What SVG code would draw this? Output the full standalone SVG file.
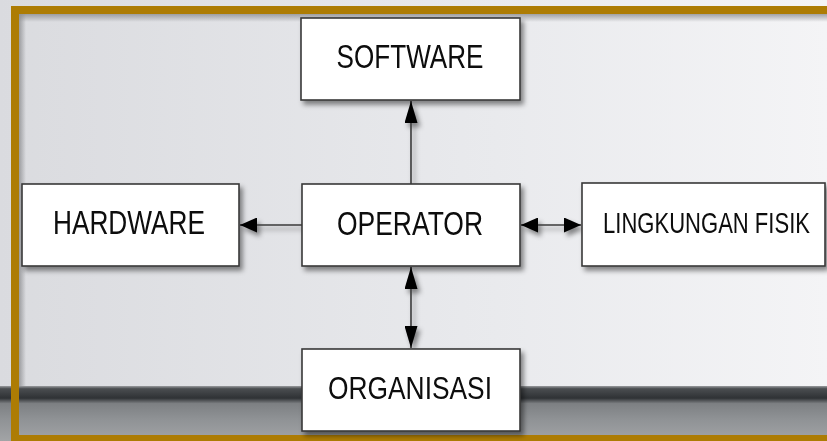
<svg xmlns="http://www.w3.org/2000/svg" width="827" height="441" viewBox="0 0 827 441">
<defs>
<linearGradient id="bg" x1="0" y1="0" x2="1" y2="0">
<stop offset="0" stop-color="#dadbdf"/>
<stop offset="0.6" stop-color="#e9eaed"/>
<stop offset="1" stop-color="#f4f4f6"/>
</linearGradient>
<linearGradient id="strip" x1="0" y1="0" x2="0" y2="1">
<stop offset="0" stop-color="#9a9c9f"/>
<stop offset="0.05" stop-color="#4a4d50"/>
<stop offset="0.22" stop-color="#2f3235"/>
<stop offset="0.32" stop-color="#7d8083"/>
<stop offset="0.6" stop-color="#8f9295"/>
<stop offset="1" stop-color="#a2a4a6"/>
</linearGradient>
<linearGradient id="topsh" x1="0" y1="0" x2="0" y2="1">
<stop offset="0" stop-color="#8c8d90" stop-opacity="0.8"/>
<stop offset="1" stop-color="#8c8d90" stop-opacity="0"/>
</linearGradient>
<linearGradient id="leftsh" x1="0" y1="0" x2="1" y2="0">
<stop offset="0" stop-color="#8c8d90" stop-opacity="0.8"/>
<stop offset="1" stop-color="#8c8d90" stop-opacity="0"/>
</linearGradient>
<filter id="sh" x="-10%" y="-10%" width="130%" height="140%">
<feDropShadow dx="3" dy="4" stdDeviation="2.5" flood-color="#000" flood-opacity="0.45"/>
</filter>
<marker id="av" markerUnits="userSpaceOnUse" markerWidth="22" markerHeight="13" refX="22" refY="6.5" orient="auto-start-reverse">
<path d="M0,0 L22,6.5 L0,13 z" fill="#000"/>
</marker>
<marker id="ah" markerUnits="userSpaceOnUse" markerWidth="17" markerHeight="15" refX="17" refY="7.5" orient="auto-start-reverse">
<path d="M0,0 L17,7.5 L0,15 z" fill="#000"/>
</marker>
</defs>
<style>
.box{fill:#fff;stroke:#3a3a3a;stroke-width:1.6}
.lbl{font-family:"Liberation Sans",Arial,sans-serif;fill:#0a0a0a;text-anchor:middle}
.con{stroke:#3a3a3a;stroke-width:1.6;fill:none}
</style>
<rect x="0" y="0" width="827" height="441" fill="url(#bg)"/>
<rect x="0" y="386" width="827" height="55" fill="url(#strip)"/>
<rect x="19" y="14" width="808" height="8" fill="url(#topsh)"/>
<rect x="19" y="14" width="7" height="373" fill="url(#leftsh)"/>
<g id="frame" fill="#ad7c04">
<rect x="11" y="6" width="816" height="8"/>
<rect x="11" y="6" width="8" height="435"/>
<rect x="11" y="435" width="816" height="6"/>
</g>
<g id="connectors" filter="url(#sh)">
<line class="con" x1="411" y1="184" x2="411" y2="101" marker-end="url(#av)"/>
<line class="con" x1="302" y1="225" x2="240" y2="225" marker-end="url(#ah)"/>
<line class="con" x1="521" y1="225" x2="581" y2="225" marker-start="url(#ah)" marker-end="url(#ah)"/>
<line class="con" x1="411" y1="267" x2="411" y2="348" marker-start="url(#av)" marker-end="url(#av)"/>
</g>
<g id="software" filter="url(#sh)">
<rect class="box" x="301" y="18" width="219" height="82"/>
<text class="lbl" x="410" y="68" font-size="34" textLength="147" lengthAdjust="spacingAndGlyphs">SOFTWARE</text>
</g>
<g id="hardware" filter="url(#sh)">
<rect class="box" x="22" y="184" width="217" height="82"/>
<text class="lbl" x="129" y="234" font-size="33" textLength="152" lengthAdjust="spacingAndGlyphs">HARDWARE</text>
</g>
<g id="operator" filter="url(#sh)">
<rect class="box" x="302" y="184" width="218" height="82"/>
<text class="lbl" x="410" y="235" font-size="34" textLength="146" lengthAdjust="spacingAndGlyphs">OPERATOR</text>
</g>
<g id="lingkungan" filter="url(#sh)">
<rect class="box" x="582" y="183" width="243" height="83"/>
<text class="lbl" transform="translate(706.5,233) scale(0.76,1)" x="0" y="0" font-size="29">LINGKUNGAN FISIK</text>
</g>
<g id="organisasi" filter="url(#sh)">
<rect class="box" x="302" y="349" width="218" height="82"/>
<text class="lbl" x="410" y="399" font-size="32" textLength="164" lengthAdjust="spacingAndGlyphs">ORGANISASI</text>
</g>
</svg>
